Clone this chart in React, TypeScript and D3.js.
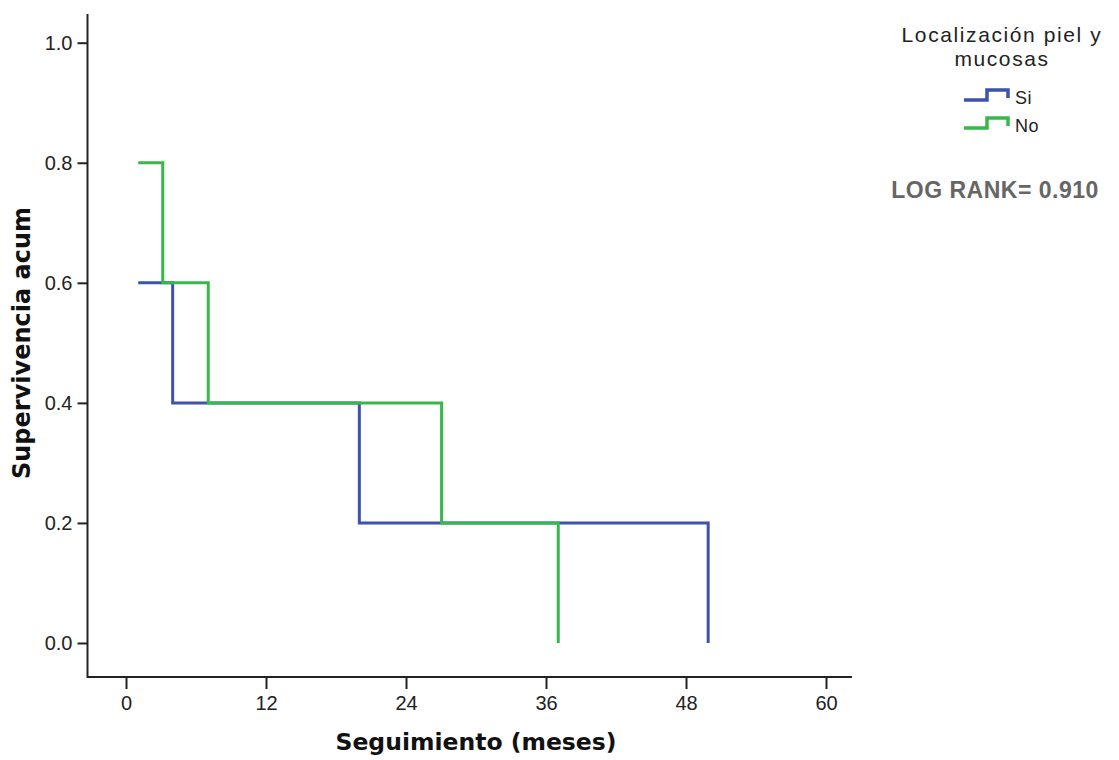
import React, { useRef, useEffect } from "react";
import { select, scaleLinear, axisLeft, axisBottom, line, curveStepAfter, format } from "d3";

// Kaplan-Meier steps: time (months) where each step starts, survival from that point
const siTimes = [1.05, 4.0, 20.0, 49.9];
const siSurv = [0.6, 0.4, 0.2, 0.0];
const noTimes = [1.05, 3.15, 7.05, 27.05, 37.05];
const noSurv = [0.8, 0.6, 0.4, 0.2, 0.0];

const xTicks = [0, 12, 24, 36, 48, 60];
const yTicks = [0, 0.2, 0.4, 0.6, 0.8, 1.0];

const seriesNames = ["Si", "No"];
const seriesColors = ["#3d52ad", "#37b84a"];

function App() {
  const svgRef = useRef<SVGSVGElement>(null);

  useEffect(() => {
    const svg = select(svgRef.current);
    svg.selectAll("*").remove();

    const x = scaleLinear().domain([0, 60]).range([126, 826]);
    const y = scaleLinear().domain([0, 1]).range([643, 42.7]);

    // axes
    const gy = svg.append("g").attr("transform", "translate(87.5,0)")
      .call(axisLeft(y).tickValues(yTicks).tickSize(10).tickPadding(5).tickFormat(format(".1f")));
    gy.select(".domain").remove();
    const gx = svg.append("g").attr("transform", "translate(0,677)")
      .call(axisBottom(x).tickValues(xTicks).tickSize(12).tickPadding(7));
    gx.select(".domain").remove();

    [gx, gy].forEach(g => {
      g.attr("font-size", 20).attr("font-family", "'Liberation Sans', Arial, sans-serif");
      g.selectAll("line").attr("stroke", "#222").attr("stroke-width", 2);
      g.selectAll("text").attr("fill", "#222");
    });

    svg.append("path").attr("d", "M87.5,14V677H852")
      .attr("fill", "none").attr("stroke", "#222").attr("stroke-width", 2);

    // survival curves
    const stepLine = line<[number, number]>()
      .x(d => x(d[0])).y(d => y(d[1])).curve(curveStepAfter);

    const series: [number, number][][] = [
      siTimes.map((t, i) => [t, siSurv[i]]),
      noTimes.map((t, i) => [t, noSurv[i]]),
    ];
    [0, 1].forEach(i => {
      svg.append("path").attr("d", stepLine(series[i]))
        .attr("fill", "none").attr("stroke", seriesColors[i]).attr("stroke-width", 3);
    });

    // axis titles
    svg.append("text").attr("x", 476).attr("y", 750).attr("text-anchor", "middle")
      .attr("font-family", "'DejaVu Sans', Verdana, sans-serif").attr("font-weight", "bold")
      .attr("font-size", 23.5).attr("fill", "#111").text("Seguimiento (meses)");
    svg.append("text").attr("transform", "translate(30,343) rotate(-90)").attr("text-anchor", "middle")
      .attr("font-family", "'DejaVu Sans', Verdana, sans-serif").attr("font-weight", "bold")
      .attr("font-size", 24).attr("fill", "#111").text("Supervivencia acum");

    // legend
    const lf = "'Liberation Sans', Arial, sans-serif";
    svg.append("text").attr("x", 1002).attr("y", 42).attr("text-anchor", "middle")
      .attr("font-family", lf).attr("font-size", 21).attr("letter-spacing", 1.6)
      .attr("fill", "#222").text("Localización piel y");
    svg.append("text").attr("x", 1002).attr("y", 66).attr("text-anchor", "middle")
      .attr("font-family", lf).attr("font-size", 21).attr("letter-spacing", 1.6)
      .attr("fill", "#222").text("mucosas");

    seriesNames.forEach((name, i) => {
      const yy = 100 + i * 28;
      svg.append("path").attr("d", `M964,${yy}H987V${yy - 10}H1008V${yy - 2}`)
        .attr("fill", "none").attr("stroke", seriesColors[i]).attr("stroke-width", 3.5);
      svg.append("text").attr("x", 1015).attr("y", yy + 4)
        .attr("font-family", lf).attr("font-size", 18).attr("letter-spacing", 0.5)
        .attr("fill", "#222").text(name);
    });

    svg.append("text").attr("x", 995).attr("y", 198).attr("text-anchor", "middle")
      .attr("font-family", lf).attr("font-weight", "bold").attr("font-size", 23)
      .attr("letter-spacing", 0.5).attr("fill", "#666").text("LOG RANK= 0.910");
  }, []);

  return (
    <div>
      <svg ref={svgRef} width={1119} height={760} style={{ display: "block", margin: "-8px 0 0 -8px" }} />
    </div>
  );
}

export default App;
